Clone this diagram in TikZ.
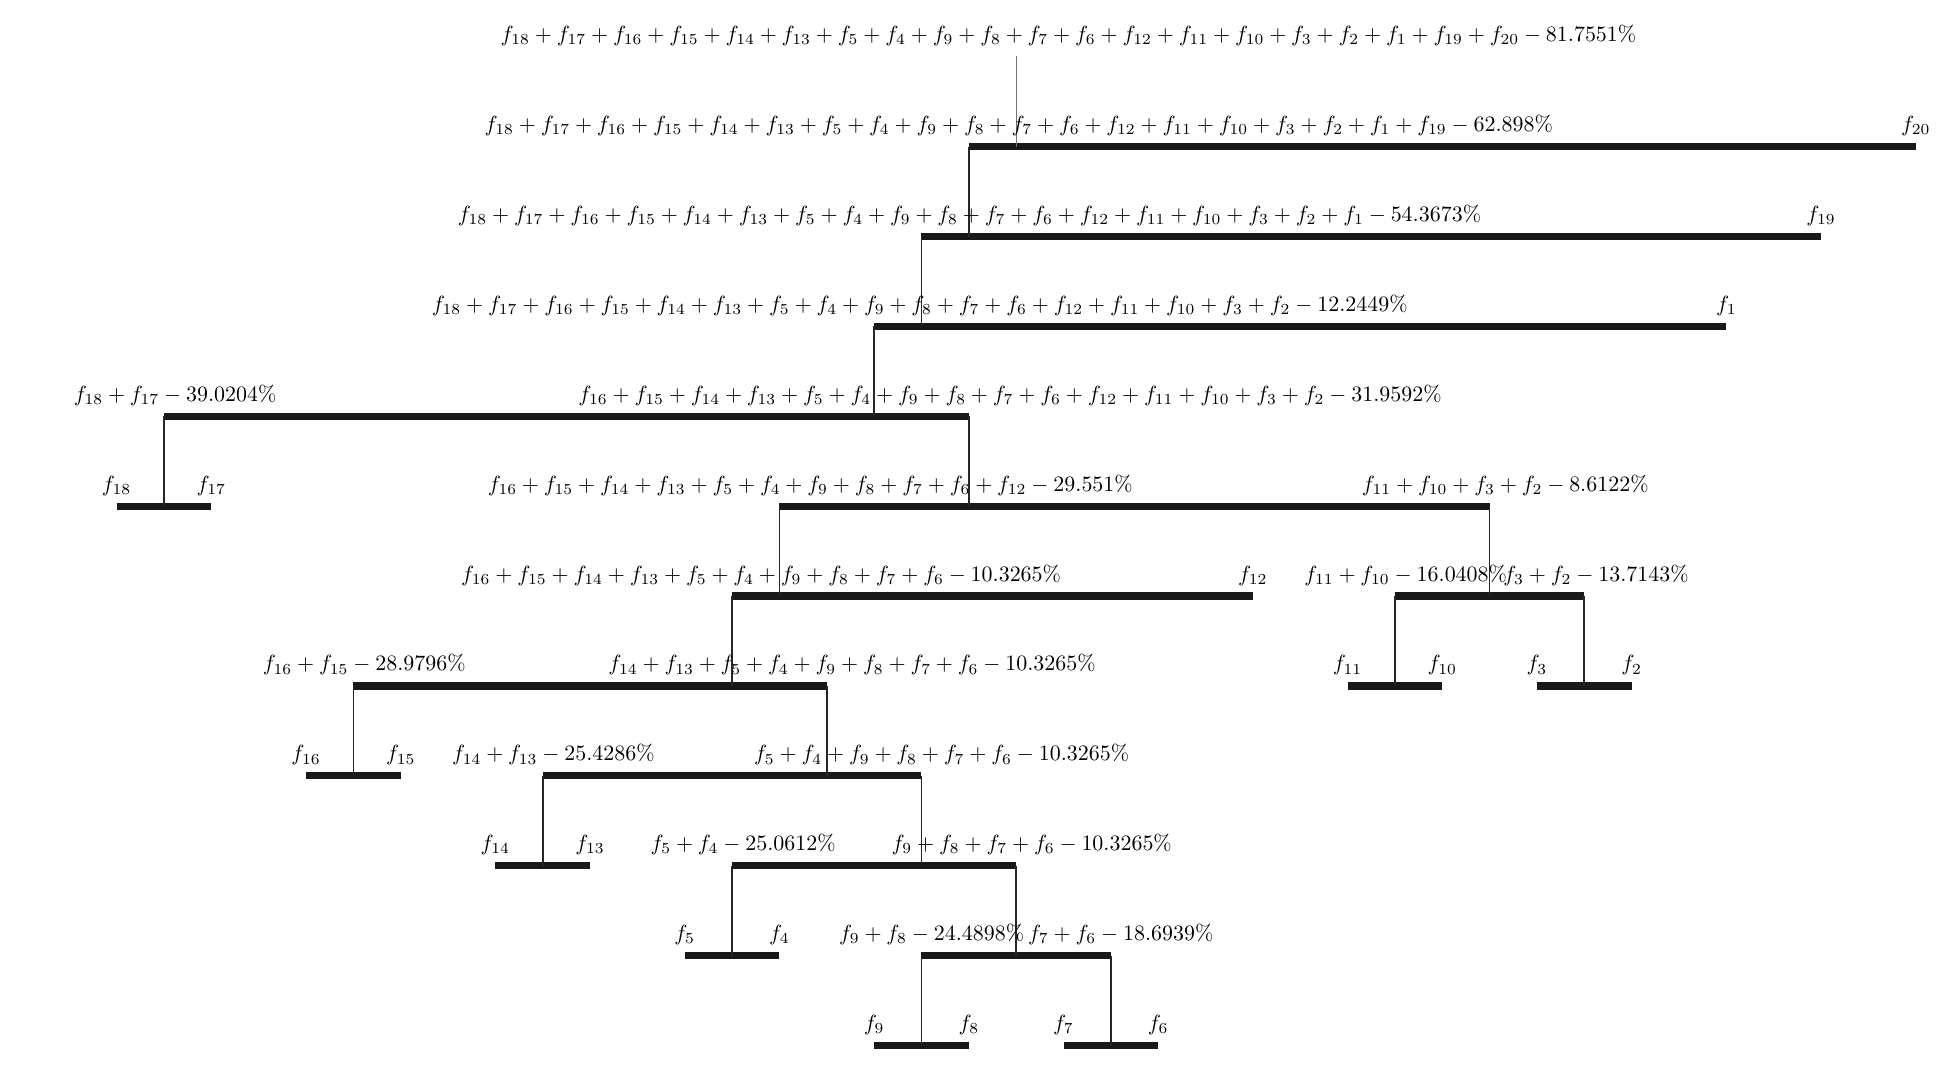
\documentclass[tikz,border=0pt]{standalone}
\tikzset{
  bar/.style={line width=3.3pt,black!90},
  link/.style={line width=0.75pt,black!85},
  lbl/.style={anchor=base,inner sep=0pt,yshift=2.4mm},
}
\begin{document}
\begin{tikzpicture}[x=0.02cm,y=-0.02cm]
\useasboundingbox (0,0) rectangle (1560,856);
%leaves
\foreach \n [count=\i from 0] in {18,17,16,15,14,13,5,4,9,8,7,6,12,11,10,3,2,1,19,20}
  \coordinate (f\n) at ({93.3+75.75*\i},0);
%clusters
\coordinate (top) at ({93.3+75.75*9.5},45);
\coordinate (root) at ({93.3+75.75*9.5},117.3);
\coordinate (a18t19) at ({93.3+75.75*9},189.2);
\coordinate (a18t1) at ({93.3+75.75*8.5},261.1);
\coordinate (a18t2) at ({93.3+75.75*8},333);
\coordinate (a1817) at ({93.3+75.75*0.5},404.9);
\coordinate (a16t2) at ({93.3+75.75*9},404.9);
\coordinate (a16t12) at ({93.3+75.75*7},476.8);
\coordinate (a11t2) at ({93.3+75.75*14.5},476.8);
\coordinate (a16t6) at ({93.3+75.75*6.5},548.7);
\coordinate (a1110) at ({93.3+75.75*13.5},548.7);
\coordinate (a32) at ({93.3+75.75*15.5},548.7);
\coordinate (a1615) at ({93.3+75.75*2.5},620.6);
\coordinate (a14t6) at ({93.3+75.75*7.5},620.6);
\coordinate (a1413) at ({93.3+75.75*4.5},692.5);
\coordinate (a5t6) at ({93.3+75.75*8.5},692.5);
\coordinate (a54) at ({93.3+75.75*6.5},764.4);
\coordinate (a9t6) at ({93.3+75.75*9.5},764.4);
\coordinate (a98) at ({93.3+75.75*8.5},836.3);
\coordinate (a76) at ({93.3+75.75*10.5},836.3);
%bars
\foreach \p/\l/\r in {root/a18t19/f20,a18t19/a18t1/f19,a18t1/a18t2/f1,a18t2/a1817/a16t2,
  a1817/f18/f17,a16t2/a16t12/a11t2,a16t12/a16t6/f12,a11t2/a1110/a32,a16t6/a1615/a14t6,
  a1110/f11/f10,a32/f3/f2,a1615/f16/f15,a14t6/a1413/a5t6,a1413/f14/f13,a5t6/a54/a9t6,
  a54/f5/f4,a9t6/a98/a76,a98/f9/f8,a76/f7/f6}
  \draw[bar] (\l |- \p) -- (\r |- \p);
%links
\draw[link,black!55,line width=0.45pt] (root) -- (top);
\foreach \c/\p in {a18t19/root,a18t1/a18t19,a18t2/a18t1,a1817/a18t2,a16t2/a18t2,
  a16t12/a16t2,a11t2/a16t2,a16t6/a16t12,a1110/a11t2,a32/a11t2,a1615/a16t6,a14t6/a16t6,
  a1413/a14t6,a5t6/a14t6,a54/a5t6,a9t6/a5t6,a98/a9t6,a76/a9t6}
  \draw[link] (\c) -- (\c |- \p);
%leaf labels
\foreach \n/\p in {18/a1817,17/a1817,16/a1615,15/a1615,14/a1413,13/a1413,5/a54,4/a54,
  9/a98,8/a98,7/a76,6/a76,12/a16t12,11/a1110,10/a1110,3/a32,2/a32,1/a18t1,19/a18t19,20/root}
  \node[lbl] (t\n) at (f\n |- \p) {$f_{\n}$};
%cluster labels
\node[lbl] (troot) at (854.8,45) {$f_{18}+f_{17}+f_{16}+f_{15}+f_{14}+f_{13}+f_5+f_4+f_9+f_8+f_7+f_6+f_{12}+f_{11}+f_{10}+f_3+f_2+f_1+f_{19}+f_{20}-81.7551\%$};
\node[lbl] (ta18t19) at (815,117.3) {$f_{18}+f_{17}+f_{16}+f_{15}+f_{14}+f_{13}+f_5+f_4+f_9+f_8+f_7+f_6+f_{12}+f_{11}+f_{10}+f_3+f_2+f_1+f_{19}-62.898\%$};
\node[lbl] (ta18t1) at (775.6,189.2) {$f_{18}+f_{17}+f_{16}+f_{15}+f_{14}+f_{13}+f_5+f_4+f_9+f_8+f_7+f_6+f_{12}+f_{11}+f_{10}+f_3+f_2+f_1-54.3673\%$};
\node[lbl] (ta18t2) at (735.8,261.1) {$f_{18}+f_{17}+f_{16}+f_{15}+f_{14}+f_{13}+f_5+f_4+f_9+f_8+f_7+f_6+f_{12}+f_{11}+f_{10}+f_3+f_2-12.2449\%$};
\node[lbl] (ta1817) at (140.1,333) {$f_{18}+f_{17}-39.0204\%$};
\node[lbl] (ta16t2) at (808,333) {$f_{16}+f_{15}+f_{14}+f_{13}+f_5+f_4+f_9+f_8+f_7+f_6+f_{12}+f_{11}+f_{10}+f_3+f_2-31.9592\%$};
\node[lbl] (ta16t12) at (648.2,404.9) {$f_{16}+f_{15}+f_{14}+f_{13}+f_5+f_4+f_9+f_8+f_7+f_6+f_{12}-29.551\%$};
\node[lbl] (ta11t2) at (1204.2,404.9) {$f_{11}+f_{10}+f_3+f_2-8.6122\%$};
\node[lbl] (ta16t6) at (608.9,476.8) {$f_{16}+f_{15}+f_{14}+f_{13}+f_5+f_4+f_9+f_8+f_7+f_6-10.3265\%$};
\node[lbl] (ta1110) at (1124.5,476.8) {$f_{11}+f_{10}-16.0408\%$};
\node[lbl] (ta32) at (1276.8,476.8) {$f_3+f_2-13.7143\%$};
\node[lbl] (ta1615) at (291.4,548.7) {$f_{16}+f_{15}-28.9796\%$};
\node[lbl] (ta14t6) at (681.6,548.7) {$f_{14}+f_{13}+f_5+f_4+f_9+f_8+f_7+f_6-10.3265\%$};
\node[lbl] (ta1413) at (442.7,620.6) {$f_{14}+f_{13}-25.4286\%$};
\node[lbl] (ta5t6) at (753.3,620.6) {$f_5+f_4+f_9+f_8+f_7+f_6-10.3265\%$};
\node[lbl] (ta54) at (594.5,692.5) {$f_5+f_4-25.0612\%$};
\node[lbl] (ta9t6) at (825.4,692.5) {$f_9+f_8+f_7+f_6-10.3265\%$};
\node[lbl] (ta98) at (745.3,764.4) {$f_9+f_8-24.4898\%$};
\node[lbl] (ta76) at (896.6,764.4) {$f_7+f_6-18.6939\%$};
\end{tikzpicture}
\end{document}
